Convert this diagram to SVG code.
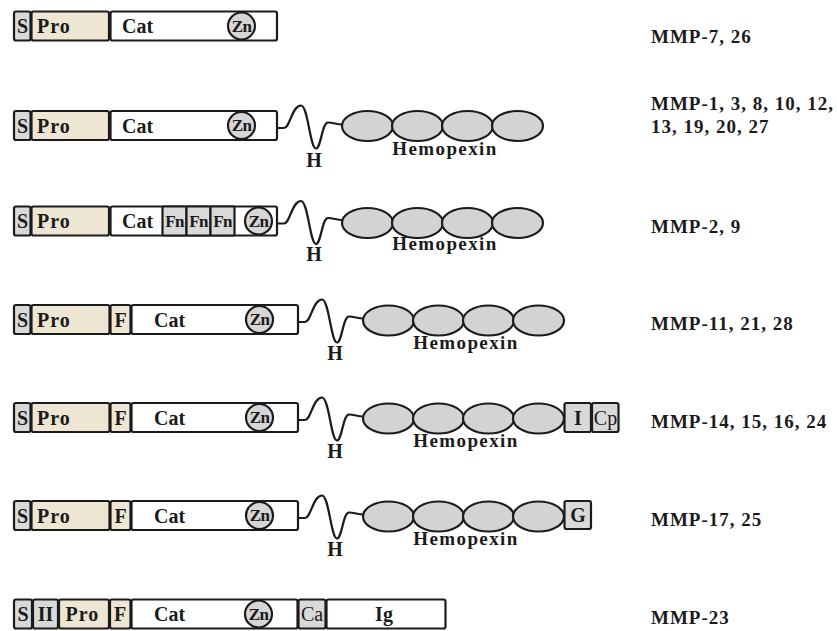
<svg xmlns="http://www.w3.org/2000/svg" width="837" height="631" viewBox="0 0 837 631">
  <defs>
    <style>
      .dom{stroke:#1b1b1b;stroke-width:2.2}
      .sig{fill:#d9d9d9}
      .pro{fill:#ece6d2}
      .cat{fill:#ffffff}
      .gry{fill:#d9d9d9}
      .zn{fill:#d6d6d6;stroke:#1b1b1b;stroke-width:2.2}
      .hpx{fill:#d3d3d3;stroke:#1b1b1b;stroke-width:2.2}
      .hinge{fill:none;stroke:#1b1b1b;stroke-width:2.2;stroke-linecap:round;stroke-linejoin:round}
      text{font-family:"Liberation Serif","Times New Roman",serif;font-weight:bold;fill:#1b1b1b}
      .t{font-size:20px}
      .pr{font-size:20px;letter-spacing:1px}
      .ts{font-size:17px;letter-spacing:-0.6px}
      .fn{font-size:17px;letter-spacing:-0.6px}
      .rg{font-weight:normal;font-size:20px}
      .lab{font-size:19px;letter-spacing:1px}
      .hx{font-size:19px;letter-spacing:1.4px}
      .mid{text-anchor:middle}
    </style>
    <!-- four hemopexin blades, left edge at x=0, centred on y=0 -->
    <g id="hemo">
      <ellipse class="hpx" cx="25.5" cy="0" rx="25.5" ry="15"/>
      <ellipse class="hpx" cx="75.5" cy="0" rx="25.5" ry="15"/>
      <ellipse class="hpx" cx="125.5" cy="0" rx="25.5" ry="15"/>
      <ellipse class="hpx" cx="175.5" cy="0" rx="25.5" ry="15"/>
    </g>
    <!-- hinge linker, starts at the right edge of the catalytic domain -->
    <path id="hinge" class="hinge" d="M0,2.5 H7 C13,2.5 15,-20 24,-20 C31,-20 33,23 39,23 C44,23 45,-3 51,-3 C56,-3 60,-1 65,-1"/>
  </defs>

  <rect width="837" height="631" fill="#ffffff"/>

  <!-- hinge connectors between catalytic domain and hemopexin domain -->
  <g id="connectors">
    <use href="#hinge" transform="translate(277,125.5)"/>
    <use href="#hinge" transform="translate(277,221)"/>
    <use href="#hinge" transform="translate(298,319.5)"/>
    <use href="#hinge" transform="translate(298,417.5)"/>
    <use href="#hinge" transform="translate(298,515.5)"/>
    <text class="t mid" x="314" y="166.5">H</text>
    <text class="t mid" x="314" y="261">H</text>
    <text class="t mid" x="335" y="360">H</text>
    <text class="t mid" x="335" y="458">H</text>
    <text class="t mid" x="335" y="556">H</text>
  </g>

  <!-- MMP-7, 26 -->
  <g id="mmp7">
    <rect class="dom sig" x="14" y="11.5" width="16.5" height="29" rx="2"/>
    <rect class="dom pro" x="31.5" y="11.5" width="77.5" height="29" rx="2"/>
    <rect class="dom cat" x="110.5" y="11.5" width="166.5" height="29" rx="2"/>
    <text class="t mid" x="22.5" y="33">S</text>
    <text class="pr" x="37" y="33">Pro</text>
    <text class="t" x="122" y="33">Cat</text>
    <circle class="zn" cx="241.5" cy="26" r="13.5"/>
    <text class="ts mid" x="241.5" y="31.5">Zn</text>
    <text class="lab" x="651" y="43">MMP-7, 26</text>
  </g>

  <!-- MMP-1, 3, 8, 10, 12, 13, 19, 20, 27 -->
  <g id="mmp1">
    <rect class="dom sig" x="14" y="111" width="16.5" height="29" rx="2"/>
    <rect class="dom pro" x="31.5" y="111" width="77.5" height="29" rx="2"/>
    <rect class="dom cat" x="110.5" y="111" width="166.5" height="29" rx="2"/>
    <text class="t mid" x="22.5" y="132.5">S</text>
    <text class="pr" x="37" y="132.5">Pro</text>
    <text class="t" x="122" y="132.5">Cat</text>
    <circle class="zn" cx="241.5" cy="125.5" r="13.5"/>
    <text class="ts mid" x="241.5" y="131">Zn</text>
    <use href="#hemo" transform="translate(342,126)"/>
    <text class="hx mid" x="445" y="154.5">Hemopexin</text>
    <text class="lab" x="651" y="110">MMP-1, 3, 8, 10, 12,</text>
    <text class="lab" x="651" y="133">13, 19, 20, 27</text>
  </g>

  <!-- MMP-2, 9 -->
  <g id="mmp2">
    <rect class="dom sig" x="14" y="206.5" width="16.5" height="29" rx="2"/>
    <rect class="dom pro" x="31.5" y="206.5" width="77.5" height="29" rx="2"/>
    <rect class="dom cat" x="110.5" y="206.5" width="166.5" height="29" rx="2"/>
    <rect class="dom gry" x="162.5" y="206.5" width="24" height="29" rx="1"/>
    <rect class="dom gry" x="186.5" y="206.5" width="24" height="29" rx="1"/>
    <rect class="dom gry" x="210.5" y="206.5" width="24" height="29" rx="1"/>
    <text class="t mid" x="22.5" y="228">S</text>
    <text class="pr" x="37" y="228">Pro</text>
    <text class="t" x="122" y="228">Cat</text>
    <text class="fn mid" x="174.5" y="227">Fn</text>
    <text class="fn mid" x="198.5" y="227">Fn</text>
    <text class="fn mid" x="222.5" y="227">Fn</text>
    <circle class="zn" cx="258.5" cy="221" r="13.5"/>
    <text class="ts mid" x="258.5" y="226.5">Zn</text>
    <use href="#hemo" transform="translate(342,223)"/>
    <text class="hx mid" x="445" y="250">Hemopexin</text>
    <text class="lab" x="651" y="233">MMP-2, 9</text>
  </g>

  <!-- MMP-11, 21, 28 -->
  <g id="mmp11">
    <rect class="dom sig" x="14" y="305" width="16.5" height="29" rx="2"/>
    <rect class="dom pro" x="31.5" y="305" width="78" height="29" rx="2"/>
    <rect class="dom pro" x="110.5" y="305" width="20" height="29" rx="2"/>
    <rect class="dom cat" x="131.5" y="305" width="166.5" height="29" rx="2"/>
    <text class="t mid" x="22.5" y="326.5">S</text>
    <text class="pr" x="37" y="326.5">Pro</text>
    <text class="t mid" x="120.5" y="326.5">F</text>
    <text class="t" x="154" y="326.5">Cat</text>
    <circle class="zn" cx="259.5" cy="319.5" r="13.5"/>
    <text class="ts mid" x="259.5" y="325">Zn</text>
    <use href="#hemo" transform="translate(363,320.5)"/>
    <text class="hx mid" x="466" y="348.5">Hemopexin</text>
    <text class="lab" x="651" y="330">MMP-11, 21, 28</text>
  </g>

  <!-- MMP-14, 15, 16, 24 -->
  <g id="mmp14">
    <rect class="dom sig" x="14" y="403" width="16.5" height="29" rx="2"/>
    <rect class="dom pro" x="31.5" y="403" width="78" height="29" rx="2"/>
    <rect class="dom pro" x="110.5" y="403" width="20" height="29" rx="2"/>
    <rect class="dom cat" x="131.5" y="403" width="166.5" height="29" rx="2"/>
    <text class="t mid" x="22.5" y="424.5">S</text>
    <text class="pr" x="37" y="424.5">Pro</text>
    <text class="t mid" x="120.5" y="424.5">F</text>
    <text class="t" x="154" y="424.5">Cat</text>
    <circle class="zn" cx="259.5" cy="417.5" r="13.5"/>
    <text class="ts mid" x="259.5" y="423">Zn</text>
    <use href="#hemo" transform="translate(363,418.5)"/>
    <rect class="dom gry" x="564.5" y="403" width="26.5" height="29" rx="2"/>
    <rect class="dom gry" x="592" y="403" width="26.5" height="29" rx="2"/>
    <text class="t mid" x="578" y="424.5">I</text>
    <text class="rg mid" x="605.5" y="424.5">Cp</text>
    <text class="hx mid" x="466" y="446.5">Hemopexin</text>
    <text class="lab" x="651" y="428">MMP-14, 15, 16, 24</text>
  </g>

  <!-- MMP-17, 25 -->
  <g id="mmp17">
    <rect class="dom sig" x="14" y="501" width="16.5" height="29" rx="2"/>
    <rect class="dom pro" x="31.5" y="501" width="78" height="29" rx="2"/>
    <rect class="dom pro" x="110.5" y="501" width="20" height="29" rx="2"/>
    <rect class="dom cat" x="131.5" y="501" width="166.5" height="29" rx="2"/>
    <text class="t mid" x="22.5" y="522.5">S</text>
    <text class="pr" x="37" y="522.5">Pro</text>
    <text class="t mid" x="120.5" y="522.5">F</text>
    <text class="t" x="154" y="522.5">Cat</text>
    <circle class="zn" cx="259.5" cy="515.5" r="13.5"/>
    <text class="ts mid" x="259.5" y="521">Zn</text>
    <use href="#hemo" transform="translate(363,516.5)"/>
    <rect class="dom gry" x="564.5" y="501" width="26.5" height="28" rx="2"/>
    <text class="t mid" x="578" y="522">G</text>
    <text class="hx mid" x="466" y="544.5">Hemopexin</text>
    <text class="lab" x="651" y="526">MMP-17, 25</text>
  </g>

  <!-- MMP-23 -->
  <g id="mmp23">
    <rect class="dom sig" x="14" y="599.5" width="18" height="29" rx="2"/>
    <rect class="dom gry" x="33" y="599.5" width="25" height="29" rx="2"/>
    <rect class="dom pro" x="59" y="599.5" width="50" height="29" rx="2"/>
    <rect class="dom pro" x="110" y="599.5" width="20.5" height="29" rx="2"/>
    <rect class="dom cat" x="131.5" y="599.5" width="166" height="29" rx="2"/>
    <rect class="dom gry" x="298.5" y="599.5" width="27" height="29" rx="2"/>
    <rect class="dom cat" x="326.5" y="599.5" width="119" height="29" rx="2"/>
    <text class="t mid" x="23" y="621">S</text>
    <text class="t mid" x="45.5" y="621">II</text>
    <text class="pr" x="65.5" y="621">Pro</text>
    <text class="t mid" x="120" y="621">F</text>
    <text class="t" x="154" y="621">Cat</text>
    <circle class="zn" cx="258.5" cy="614" r="13.5"/>
    <text class="ts mid" x="258.5" y="619.5">Zn</text>
    <text class="rg mid" x="312" y="621">Ca</text>
    <text class="t mid" x="384" y="621">Ig</text>
    <text class="lab" x="651" y="624">MMP-23</text>
  </g>
</svg>
